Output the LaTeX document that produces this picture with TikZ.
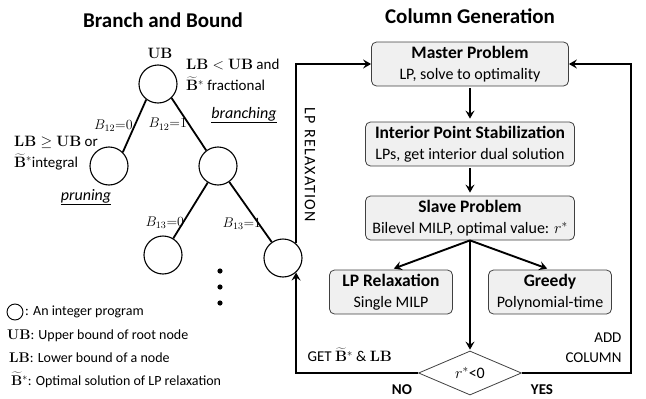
\RequirePackage{fix-cm}
\documentclass[tikz,border=0pt]{standalone}
\usepackage[no-math]{fontspec}
\setmainfont{Carlito}
\usetikzlibrary{shapes.geometric,arrows.meta}
\begin{document}
\begin{tikzpicture}[x=1pt,y=-1pt,font=\fontsize{15}{20}\selectfont,
ipnode/.style={circle, draw, line width=1.1pt, minimum size=38pt, inner sep=0pt, fill=white},
bbedge/.style={line width=1.8pt},
bblbl/.style={font=\fontsize{14}{15}\selectfont, inner sep=1pt, anchor=east},
cgbox/.style={draw=black!75, fill=black!6, line width=0.8pt, rounded corners=5pt, minimum height=44pt, align=center, inner sep=2pt, font=\fontsize{16}{21}\selectfont},
cgarrow/.style={line width=1.9pt, -{Stealth[length=8pt,width=9pt,inset=3pt]}},
decision/.style={diamond, draw=black!75, line width=0.8pt, fill=white, minimum width=103pt, minimum height=44pt, inner sep=0pt},
legend/.style={anchor=west, inner sep=0pt, font=\fontsize{14}{19}\selectfont}]
\useasboundingbox (0,0) rectangle (646,399);
\node[font=\fontsize{21}{24}\selectfont\bfseries] (bbtitle) at (163,20) {Branch and Bound};
\node[font=\fontsize{21}{24}\selectfont\bfseries] (cgtitle) at (470,16) {Column Generation};
\node[ipnode] (tid0) at (158,84){};
\node[ipnode] (tid1) at (109,166){};
\node[ipnode] (tid2) at (218,166){};
\node[ipnode] (tid3) at (163,255){};
\node[ipnode] (tid4) at (283,258){};
\draw[bbedge](tid0.233) -- node[bblbl, pos=.5]{$B_{12}{=}0$} (tid1.45);
\draw[bbedge](tid0.-46) -- node[bblbl, pos=.5]{$B_{12}{=}1$} (tid2.127);
\draw[bbedge](tid2) -- node[bblbl, pos=.72, xshift=3pt]{$B_{13}{=}0$} (tid3);
\draw[bbedge](tid2) -- node[bblbl, pos=.7, xshift=4pt]{$B_{13}{=}1$} (tid4);
\fill (220,271) circle (2.6) (220,287) circle (2.6) (220,303) circle (2.6);
\node[font=\fontsize{15}{19}\selectfont] (ubtxt) at (160,53) {$\mathbf{UB}$};
\node[align=left, anchor=west, inner sep=0pt] (fractxt) at (186,75) {$\mathbf{LB}<\mathbf{UB}$ and\\[1pt]$\widetilde{\mathbf{B}}^*$ fractional};
\node[align=left, anchor=west, inner sep=0pt] (inttxt) at (14,153) {$\mathbf{LB}\geq\mathbf{UB}$ or\\[1pt]$\widetilde{\mathbf{B}}^*$integral};
\node[font=\fontsize{16}{19}\selectfont\itshape] (prunetxt) at (86,197) {\underline{pruning}};
\node[font=\fontsize{16}{19}\selectfont\itshape] (branchtxt) at (244,115) {\underline{branching}};
\node[cgbox, minimum width=197pt] (mp) at (470,64) {{\fontsize{17.5}{21}\selectfont\bfseries Master Problem}\\LP, solve to optimality};
\node[cgbox, minimum width=209pt] (ips) at (470,144) {{\fontsize{17.5}{21}\selectfont\bfseries Interior Point Stabilization}\\LPs, get interior dual solution};
\node[cgbox, minimum width=209pt] (sp) at (470,218) {{\fontsize{17.5}{21}\selectfont\bfseries Slave Problem}\\Bilevel MILP, optimal value: $r^*$};
\node[cgbox, minimum width=123pt] (lpr) at (391,292) {{\fontsize{17.5}{21}\selectfont\bfseries LP Relaxation}\\Single MILP};
\node[cgbox, minimum width=123pt] (gr) at (550,292) {{\fontsize{17.5}{21}\selectfont\bfseries Greedy}\\Polynomial-time};
\node[decision, font=\fontsize{16}{19}\selectfont] (dec) at (470,373) {$r^*$<0};
\coordinate (addc) at (631,373);
\draw[cgarrow, shorten <=2pt, shorten >=3pt] (mp) -- (ips);
\draw[cgarrow, shorten <=2pt, shorten >=3pt] (ips) -- (sp);
\draw[cgarrow, shorten <=1pt, shorten >=1pt] (sp) -- (dec);
\draw[cgarrow, shorten >=3pt] (sp.south) -- (lpr.north);
\draw[cgarrow, shorten >=3pt] (sp.south) -- (gr.north);
\draw[cgarrow] (dec.west) -| (tid4.-48);
\draw[cgarrow] (tid4.48) |- (mp.west);
\draw[cgarrow] (dec.east) -- (addc) |- (mp.east);
\node[rotate=-90, font=\fontsize{16}{19}\selectfont\addfontfeature{LetterSpace=8}] (lprtxt) at (310,165) {LP RELAXATION};
\node[anchor=west] (gettxt) at (304,355) {GET $\widetilde{\mathbf{B}}^*$ \& $\mathbf{LB}$};
\node[align=right, anchor=east] (addtxt) at (625,348) {ADD\\COLUMN};
\node[font=\fontsize{15}{19}\selectfont\bfseries] (notxt) at (402,390) {NO};
\node[font=\fontsize{15}{19}\selectfont\bfseries] (yestxt) at (542,390) {YES};
\node[circle, draw, line width=0.9pt, minimum size=16pt, inner sep=0pt] (lgc) at (15,312){};
\node[legend] (lg0) at (25,312) {: An integer program};
\node[legend] (lg1) at (7,336) {$\mathbf{UB}$: Upper bound of root node};
\node[legend] (lg2) at (9,358) {$\mathbf{LB}$: Lower bound of a node};
\node[legend] (lg3) at (11,380) {$\widetilde{\mathbf{B}}^*$: Optimal solution of LP relaxation};
\end{tikzpicture}
\end{document}
